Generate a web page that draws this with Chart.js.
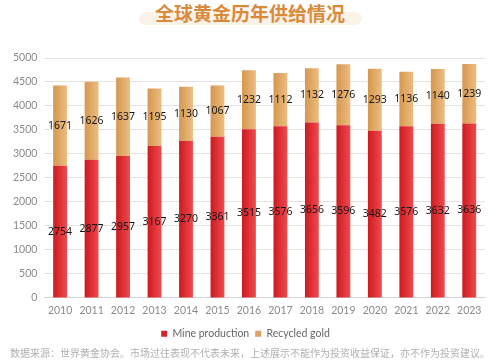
<!DOCTYPE html>
<html>
<head>
<meta charset="utf-8">
<script src="https://cdn.jsdelivr.net/npm/chart.js@4"></script>
<style>
  body { margin: 0; background: #fff; }
  #wrap { position: relative; width: 500px; height: 361px; overflow: hidden; }
  #title {
    position: absolute; left: 0; top: 0; width: 500px; text-align: center;
    font-family: "Noto Sans CJK SC", sans-serif; font-weight: bold; font-size: 19px;
    color: #d98b3b; line-height: 26px;
  }
  #pill {
    position: absolute; left: 139px; top: 12px; width: 223px; height: 13px;
    background: #fbf2e8; border-radius: 7px;
  }
  #title span { position: relative; }
  #chartBox { position: absolute; left: 0; top: 40px; width: 500px; height: 309px; }
  #footer {
    position: absolute; left: 0; top: 345px; width: 500px; text-align: center;
    font-family: "Noto Sans CJK SC", sans-serif; font-size: 10px; color: #b0b0b0;
    line-height: 16px; white-space: nowrap;
  }
</style>
</head>
<body>
<div id="wrap">
  <div id="pill"></div>
  <div id="title"><span>全球黄金历年供给情况</span></div>
  <div id="chartBox"><canvas id="supplyChart"></canvas></div>
  <div id="footer">数据来源：世界黄金协会。市场过往表现不代表未来，上述展示不能作为投资收益保证，亦不作为投资建议。</div>
</div>
<script>
// ==================== DATOS ====================
const years = ['2010', '2011', '2012', '2013', '2014', '2015', '2016', '2017', '2018', '2019', '2020', '2021', '2022', '2023'];
const mineProduction = [2754, 2877, 2957, 3167, 3270, 3361, 3515, 3576, 3656, 3596, 3482, 3576, 3632, 3636];
const recycledGold = [1671, 1626, 1637, 1195, 1130, 1067, 1232, 1112, 1132, 1276, 1293, 1136, 1140, 1239];
const yTicks = [0, 500, 1000, 1500, 2000, 2500, 3000, 3500, 4000, 4500, 5000];

const BAR_FRACTION = 0.44;

// gradiente horizontal por barra
function barGradient(left, right) {
    return function(context) {
        const chart = context.chart;
        const xScale = chart.scales.x;
        if (!xScale || context.dataIndex === undefined) return left;
        const cx = xScale.getPixelForValue(context.dataIndex);
        const half = (xScale.width / years.length) * BAR_FRACTION / 2;
        const g = chart.ctx.createLinearGradient(cx - half, 0, cx + half, 0);
        g.addColorStop(0, left);
        g.addColorStop(1, right);
        return g;
    };
}

// etiquetas centradas dentro de cada segmento
const centerLabels = {
    id: 'centerLabels',
    afterDatasetsDraw(chart) {
        const ctx = chart.ctx;
        ctx.save();
        ctx.font = '10.5px "Noto Sans", sans-serif';
        ctx.fillStyle = '#161616';
        ctx.textAlign = 'center';
        ctx.textBaseline = 'middle';
        chart.data.datasets.forEach((ds, di) => {
            const meta = chart.getDatasetMeta(di);
            meta.data.forEach((bar, i) => {
                const y = (bar.y + bar.base) / 2;
                ctx.fillText(String(ds.data[i]), bar.x, y);
            });
        });
        ctx.restore();
    }
};

Chart.defaults.font.family = "Lato, sans-serif";
Chart.defaults.color = '#8a8a8a';

const chartCtx = document.getElementById('supplyChart').getContext('2d');
const supplyChart = new Chart(chartCtx, {
    type: 'bar',
    data: {
        labels: years,
        datasets: [{
            label: 'Mine production',
            data: mineProduction,
            backgroundColor: barGradient('#cc1a20', '#f04a4e'),
            borderWidth: 0
        }, {
            label: 'Recycled gold',
            data: recycledGold,
            backgroundColor: barGradient('#d6974e', '#ebbd82'),
            borderWidth: 0
        }]
    },
    options: {
        responsive: true,
        maintainAspectRatio: false,
        animation: false,
        datasets: {
            bar: { barPercentage: BAR_FRACTION, categoryPercentage: 1 }
        },
        layout: { padding: { left: 6, right: 15, top: 18, bottom: 0 } },
        plugins: {
            legend: {
                position: 'bottom',
                labels: {
                    usePointStyle: true,
                    pointStyle: 'rect',
                    boxWidth: 6,
                    boxHeight: 6,
                    padding: 6,
                    color: '#666',
                    font: { size: 10.5 },
                    generateLabels(chart) {
                        const solid = ['#d2262b', '#dea465'];
                        return chart.data.datasets.map((ds, i) => ({
                            text: ds.label,
                            fillStyle: solid[i],
                            strokeStyle: solid[i],
                            lineWidth: 0,
                            pointStyle: 'rect',
                            datasetIndex: i,
                            hidden: false,
                            fontColor: '#666'
                        }));
                    }
                }
            },
            tooltip: { enabled: false }
        },
        scales: {
            x: {
                stacked: true,
                grid: { display: false, drawTicks: false },
                border: { color: '#d6d6d6' },
                ticks: { padding: 6, font: { size: 10.5 }, color: '#8a8a8a' }
            },
            y: {
                stacked: true,
                min: 0,
                max: 5000,
                afterBuildTicks(axis) {
                    axis.ticks = yTicks.map(v => ({ value: v }));
                },
                grid: { color: '#e2e2e2', drawTicks: false },
                border: { display: false },
                ticks: {
                    padding: 7,
                    font: { size: 10.5 },
                    color: '#8a8a8a',
                    callback: value => String(value)
                }
            }
        }
    },
    plugins: [centerLabels]
});
</script>
</body>
</html>
